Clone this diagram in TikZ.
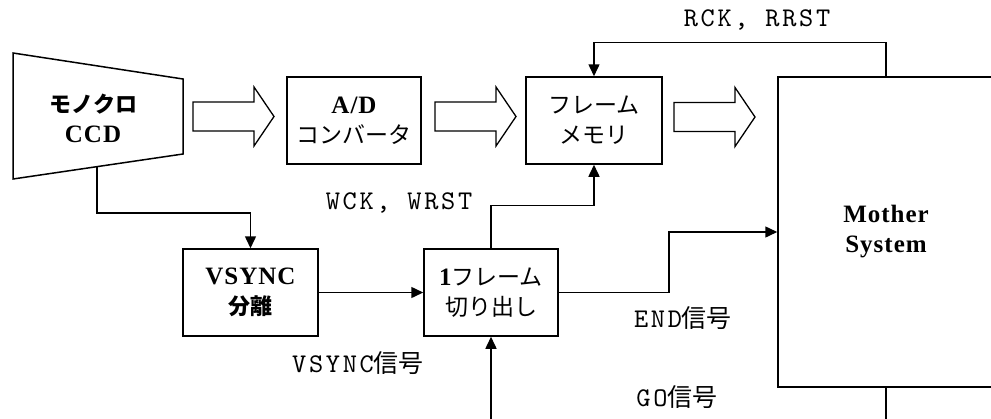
\documentclass[tikz,border=0pt]{standalone}
\usepackage{fontspec}
\setmainfont{Liberation Serif}
\newfontfamily\jpf{Noto Sans CJK JP}
\newfontfamily\bserf{Liberation Serif}[LetterSpace=4]
\newfontfamily\monof{lmmono10-regular.otf}[LetterSpace=10]
\usetikzlibrary{arrows.meta,calc}
\newcommand\Jt[1]{{\jpf\fontsize{23}{30}\selectfont #1}}
\newcommand\Jtb[1]{{\jpf\bfseries\fontsize{22}{30}\selectfont #1}}
\newcommand\Bt[1]{{\bserf\bfseries\fontsize{25}{30}\selectfont #1}}
\newcommand\Jl[1]{{\jpf\fontsize{25}{30}\selectfont #1}}
\begin{document}
\begin{tikzpicture}[x=1pt,y=-1pt,line width=1.5pt,
  btxt/.style={inner sep=0pt,align=center,font=\fontsize{22}{30}\selectfont},
  box/.style={draw,btxt,minimum width=134pt,minimum height=87pt},
  sig/.style={-{Triangle[length=12pt,width=11pt]}},
  lab/.style={inner sep=0pt,font=\monof\fontsize{27}{30}\selectfont},
  barrow/.pic={\draw[line width=1.3pt] (0,-14.5) -- (61,-14.5) -- (61,-29.5) -- (81,0) -- (61,29.5) -- (61,14.5) -- (0,14.5) -- cycle;}]
\useasboundingbox (0,0) rectangle (991,418);
\clip (0,0) rectangle (991,418);
% CCD trapezoid
\draw (13,53) -- (183,79) -- (183,154) -- (13,179) -- cycle;
\node[btxt] (ccd) at (93,118) {\Jtb{モノクロ}\\\Bt{CCD}};
\coordinate (ccdb) at (97,166.6);
% boxes
\node[box] (ad) at (354,120.5) {\Bt{A/D}\\\Jt{コンバータ}};
\node[box,minimum width=136pt] (fm) at (594,120.5) {\Jt{フレーム}\\\Jt{メモリ}};
\node[box,minimum width=135pt] (vs) at (250.5,292.5) {\Bt{VSYNC}\\\Jtb{分離}};
\node[box] (fr) at (491,292.5) {\Bt{1}\Jt{フレーム}\\\Jt{切り出し}};
\node[draw,btxt,minimum width=216pt,minimum height=310pt] (ms) at (886,232) {\Bt{Mother}\\\Bt{System}};
% block arrows
\pic at (193,116.5) {barrow};
\pic at (435,116.5) {barrow};
\pic at (674,117) {barrow};
% connectors
\draw[sig] (ccdb) -- ++(0,46.4) -| (vs.north);
\draw[sig] (vs.east) -- (fr.west);
\draw[sig] (fr.north) -- ++(0,-43) -| (fm.south);
\draw[sig] (ms.north) -- ++(0,-34) -| (fm.north);
\draw[sig] (fr.east) -- ++(110,0) |- (ms.west);
\coordinate (goin) at (491,425);
\draw[sig] (goin) -- (fr.south);
\coordinate (goout) at (886,425);
\draw (ms.south) -- (goout);
% labels
\node[lab] (rck) at (757,20) {RCK, RRST};
\node[lab] (wck) at (399,203) {WCK, WRST};
\node[lab] (vsl) at (358,363) {VSYNC\Jl{信号}};
\node[lab] (endl) at (683,318) {END\Jl{信号}};
\node[lab] (gol) at (677,397) {GO\Jl{信号}};
\end{tikzpicture}
\end{document}
